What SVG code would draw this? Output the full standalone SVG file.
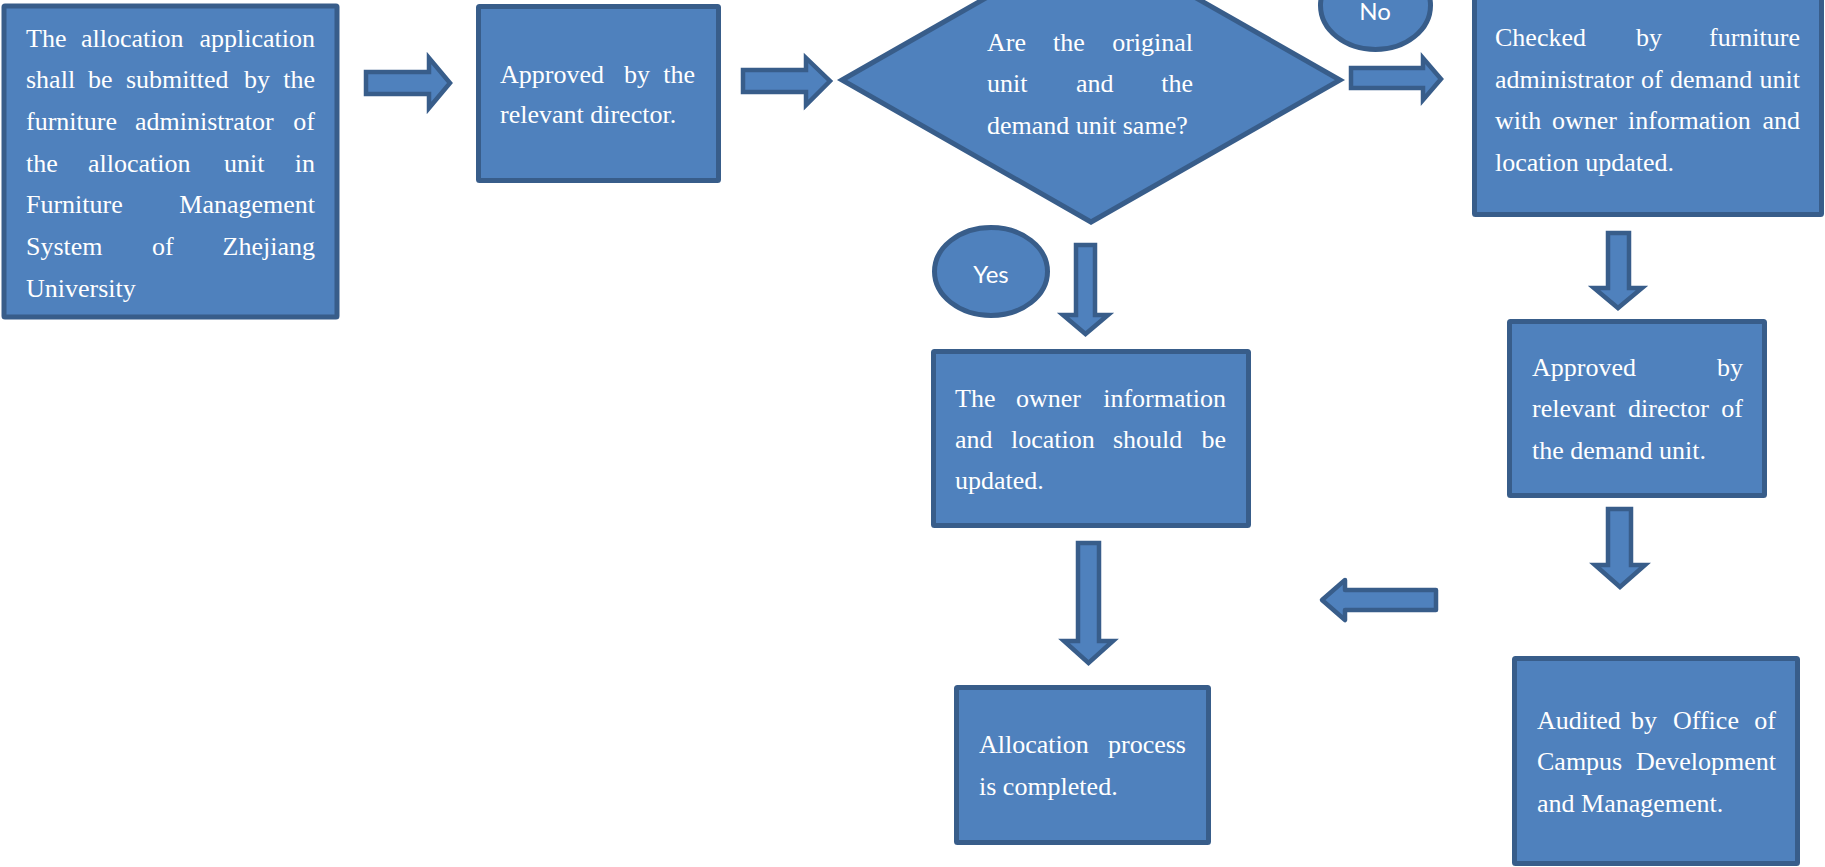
<svg xmlns="http://www.w3.org/2000/svg" width="1825" height="867" viewBox="0 0 1825 867">
<style>
.box{fill:#4F81BD;stroke:#385D8A;stroke-width:5}
.arr{fill:#4F81BD;stroke:#385D8A;stroke-width:4.5;stroke-linejoin:miter}
.t{font-family:"Liberation Serif","Times New Roman",serif;font-size:26px;fill:#FFFFFF}
.s{font-family:Lato,"Liberation Sans",sans-serif;font-size:24px;fill:#FFFFFF;text-anchor:middle}
.e{text-anchor:end}
</style>
<rect width="1825" height="867" fill="#FFFFFF"/>
<g id="connectors">
<path class="arr" d="M366,72 H429 V58 L450,83 L429,108 V94 H366 Z"/>
<path class="arr" d="M743,70 H806 V58 L830,81 L806,105 V92 H743 Z"/>
<path class="arr" d="M1351,68 H1423 V58 L1441,79 L1423,100 V88 H1351 Z"/>
<path class="arr" d="M1076,245 H1095 V315 H1108 L1085.5,334 L1063,315 H1076 Z"/>
<path class="arr" d="M1078,543 H1099 V641 H1113 L1088.5,663 L1064,641 H1078 Z"/>
<path class="arr" d="M1608,233 H1629 V288 H1642 L1618,308 L1594,288 H1608 Z"/>
<path class="arr" d="M1608,509 H1631 V565 H1645 L1620,587 L1595,565 H1608 Z"/>
<path class="arr" style="stroke-linejoin:round" d="M1436,590 H1345 V580 L1322,600 L1345,620 V610 H1436 Z"/>
</g>
<g id="submit">
<rect class="box" x="4" y="6" width="333" height="311" rx="1"/>
<text class="t" y="47"><tspan x="26">The</tspan> <tspan x="81">allocation</tspan> <tspan x="315" class="e">application</tspan></text>
<text class="t" y="88"><tspan x="26">shall</tspan> <tspan x="88">be</tspan> <tspan x="126">submitted</tspan> <tspan x="244">by</tspan> <tspan x="315" class="e">the</tspan></text>
<text class="t" y="130"><tspan x="26">furniture</tspan> <tspan x="135">administrator</tspan> <tspan x="315" class="e">of</tspan></text>
<text class="t" y="172"><tspan x="26">the</tspan> <tspan x="88">allocation</tspan> <tspan x="224">unit</tspan> <tspan x="315" class="e">in</tspan></text>
<text class="t" y="213"><tspan x="26">Furniture</tspan> <tspan x="315" class="e">Management</tspan></text>
<text class="t" y="255"><tspan x="26">System</tspan> <tspan x="152">of</tspan> <tspan x="315" class="e">Zhejiang</tspan></text>
<text class="t" x="26" y="297">University</text>
</g>
<g id="approve1">
<rect class="box" x="478.5" y="6.5" width="240" height="174" rx="1"/>
<text class="t" y="83"><tspan x="500">Approved</tspan> <tspan x="624">by</tspan> <tspan x="695" class="e">the</tspan></text>
<text class="t" x="500" y="123">relevant director.</text>
</g>
<g id="decision">
<polygon class="box" points="842,80 1091,-62 1340,80 1091,222"/>
<text class="t" y="51"><tspan x="987">Are</tspan> <tspan x="1053">the</tspan> <tspan x="1193" class="e">original</tspan></text>
<text class="t" y="92"><tspan x="987">unit</tspan> <tspan x="1076">and</tspan> <tspan x="1193" class="e">the</tspan></text>
<text class="t" x="987" y="134">demand unit same?</text>
</g>
<g id="no-label">
<ellipse class="box" cx="1375.5" cy="5.5" rx="55" ry="44"/>
<text class="s" x="1375" y="20">No</text>
</g>
<g id="yes-label">
<ellipse class="box" cx="991" cy="271.5" rx="56.5" ry="44"/>
<text class="s" x="991" y="283">Yes</text>
</g>
<g id="checked">
<rect class="box" x="1474.5" y="-20" width="347" height="234.5" rx="1"/>
<text class="t" y="46"><tspan x="1495">Checked</tspan> <tspan x="1636">by</tspan> <tspan x="1800" class="e">furniture</tspan></text>
<text class="t" y="88"><tspan x="1495">administrator</tspan> <tspan x="1641">of</tspan> <tspan x="1670">demand</tspan> <tspan x="1800" class="e">unit</tspan></text>
<text class="t" y="129"><tspan x="1495">with</tspan> <tspan x="1552">owner</tspan> <tspan x="1628">information</tspan> <tspan x="1800" class="e">and</tspan></text>
<text class="t" x="1495" y="171">location updated.</text>
</g>
<g id="approve2">
<rect class="box" x="1509.5" y="321.5" width="255" height="174" rx="1"/>
<text class="t" y="376"><tspan x="1532">Approved</tspan> <tspan x="1743" class="e">by</tspan></text>
<text class="t" y="417"><tspan x="1532">relevant</tspan> <tspan x="1628">director</tspan> <tspan x="1743" class="e">of</tspan></text>
<text class="t" x="1532" y="459">the demand unit.</text>
</g>
<g id="audit">
<rect class="box" x="1514.5" y="658.5" width="283" height="205" rx="1"/>
<text class="t" y="729"><tspan x="1537">Audited</tspan> <tspan x="1631">by</tspan> <tspan x="1673">Office</tspan> <tspan x="1776" class="e">of</tspan></text>
<text class="t" y="770"><tspan x="1537">Campus</tspan> <tspan x="1776" class="e">Development</tspan></text>
<text class="t" x="1537" y="812">and Management.</text>
</g>
<g id="update">
<rect class="box" x="933.5" y="351.5" width="315" height="174" rx="1"/>
<text class="t" y="407"><tspan x="955">The</tspan> <tspan x="1016">owner</tspan> <tspan x="1226" class="e">information</tspan></text>
<text class="t" y="448"><tspan x="955">and</tspan> <tspan x="1011">location</tspan> <tspan x="1113">should</tspan> <tspan x="1226" class="e">be</tspan></text>
<text class="t" x="955" y="489">updated.</text>
</g>
<g id="complete">
<rect class="box" x="956.5" y="687.5" width="252" height="155" rx="1"/>
<text class="t" y="753"><tspan x="979">Allocation</tspan> <tspan x="1186" class="e">process</tspan></text>
<text class="t" x="979" y="795">is completed.</text>
</g>
</svg>
